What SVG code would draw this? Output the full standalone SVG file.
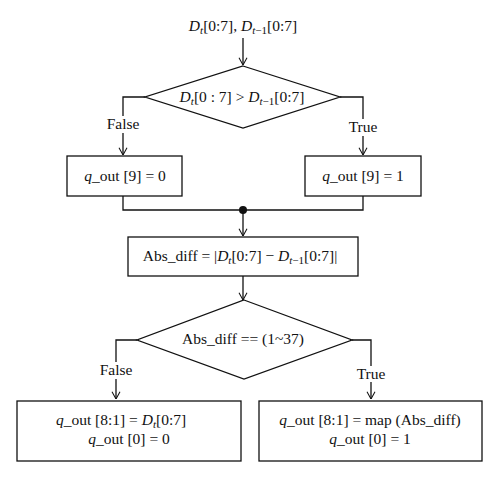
<svg xmlns="http://www.w3.org/2000/svg" width="500" height="478" viewBox="0 0 500 478">
<defs>
<style>
.t{font-family:"Liberation Serif","Times New Roman",serif;font-size:15.5px;fill:#111;text-anchor:middle}
.i{font-style:italic}
.s{font-size:11px}
.shape{fill:#fff;stroke:#111;stroke-width:1.3}
.ln{fill:none;stroke:#111;stroke-width:1.3}
</style>
<marker id="ah" viewBox="0 0 10 12" refX="10" refY="6" markerWidth="8" markerHeight="11" orient="auto" markerUnits="userSpaceOnUse">
<path d="M1,1 L10,6 L1,11" fill="none" stroke="#111" stroke-width="1.3"/>
</marker>
</defs>
<rect width="500" height="478" fill="#fff"/>

<g id="connectors">
<line class="ln" x1="243" y1="38" x2="243" y2="65" marker-end="url(#ah)"/>
<polyline class="ln" points="145,97 123,97 123,116"/>
<line class="ln" x1="123" y1="133" x2="123" y2="155" marker-end="url(#ah)"/>
<polyline class="ln" points="340,97 363,97 363,119"/>
<line class="ln" x1="363" y1="136" x2="363" y2="155" marker-end="url(#ah)"/>
<polyline class="ln" points="123,196 123,210 363,210 363,196"/>
<circle cx="243" cy="210" r="4" fill="#111"/>
<line class="ln" x1="243" y1="210" x2="243" y2="236" marker-end="url(#ah)"/>
<line class="ln" x1="243" y1="276" x2="243" y2="300" marker-end="url(#ah)"/>
<polyline class="ln" points="137,340 116,340 116,362"/>
<line class="ln" x1="116" y1="379" x2="116" y2="399" marker-end="url(#ah)"/>
<polyline class="ln" points="352,340 371,340 371,366"/>
<line class="ln" x1="371" y1="382" x2="371" y2="399" marker-end="url(#ah)"/>
<text class="t" x="123" y="129">False</text>
<text class="t" x="363" y="132">True</text>
<text class="t" x="116" y="375">False</text>
<text class="t" x="371" y="379">True</text>
</g>

<g id="input">
<text class="t" x="243" y="31"><tspan class="i">D</tspan><tspan class="i s" dy="3">t</tspan><tspan dy="-3">[0:7], </tspan><tspan class="i">D</tspan><tspan class="s" dy="3"><tspan class="i">t</tspan>−1</tspan><tspan dy="-3">[0:7]</tspan></text>
</g>

<g id="decision1">
<polygon class="shape" points="243,66 340,97 243,128 145,97"/>
<text class="t" x="242" y="102"><tspan class="i">D</tspan><tspan class="i s" dy="3">t</tspan><tspan dy="-3">[0 : 7] &gt; </tspan><tspan class="i">D</tspan><tspan class="s" dy="3"><tspan class="i">t</tspan>−1</tspan><tspan dy="-3">[0:7]</tspan></text>
</g>

<g id="q9zero">
<rect class="shape" x="67" y="156" width="115" height="40"/>
<text class="t" x="125" y="181"><tspan class="i">q</tspan>_out [9] = 0</text>
</g>

<g id="q9one">
<rect class="shape" x="305" y="156" width="116" height="40"/>
<text class="t" x="363" y="181"><tspan class="i">q</tspan>_out [9] = 1</text>
</g>

<g id="absdiff">
<rect class="shape" x="128" y="237" width="230" height="39"/>
<text class="t" x="240" y="261">Abs_diff = |<tspan class="i">D</tspan><tspan class="i s" dy="3">t</tspan><tspan dy="-3">[0:7] − </tspan><tspan class="i">D</tspan><tspan class="s" dy="3"><tspan class="i">t</tspan>−1</tspan><tspan dy="-3">[0:7]|</tspan></text>
</g>

<g id="decision2">
<polygon class="shape" points="244,300 352,340 244,379 137,340"/>
<text class="t" x="243" y="344">Abs_diff == (1~37)</text>
</g>

<g id="falseout">
<rect class="shape" x="17" y="401" width="224" height="60"/>
<text class="t" x="121" y="425"><tspan class="i">q</tspan>_out [8:1] = <tspan class="i">D</tspan><tspan class="i s" dy="3">t</tspan><tspan dy="-3">[0:7]</tspan></text>
<text class="t" x="129" y="444"><tspan class="i">q</tspan>_out [0] = 0</text>
</g>

<g id="trueout">
<rect class="shape" x="259" y="401" width="223" height="60"/>
<text class="t" x="370" y="425"><tspan class="i">q</tspan>_out [8:1] = map (Abs_diff)</text>
<text class="t" x="370" y="444"><tspan class="i">q</tspan>_out [0] = 1</text>
</g>
</svg>
